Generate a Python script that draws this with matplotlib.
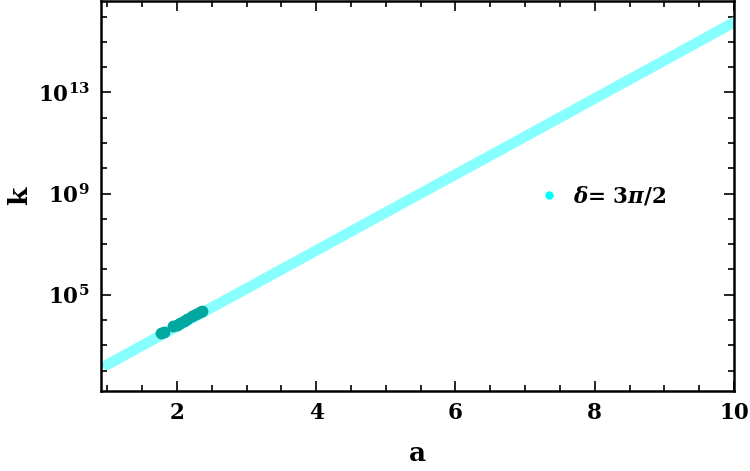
import matplotlib
matplotlib.use("Agg")
import matplotlib.pyplot as plt
import numpy as np
from matplotlib.ticker import FixedLocator, NullFormatter, FuncFormatter

# Data
a_line = [1.0, 2.0, 3.0, 4.0, 5.0, 6.0, 7.0, 8.0, 9.0, 10.0]
k_line = [1.7e2, 5.5e3, 1.75e5, 5.6e6, 1.8e8, 5.7e9, 1.8e11, 5.8e12, 1.85e14, 6.0e15]

a_dark = [1.77, 1.81, 1.95, 2.00, 2.05, 2.10, 2.15, 2.22, 2.28, 2.33, 2.36]
k_dark = [3.0e3, 3.4e3, 5.6e3, 6.6e3, 7.9e3, 9.3e3, 1.1e4, 1.45e4, 1.8e4, 2.1e4, 2.3e4]

legend_label = r"$\delta$= 3$\pi$/2"

plt.rcParams['mathtext.fontset'] = 'custom'
plt.rcParams['mathtext.rm'] = 'DejaVu Serif:bold'
plt.rcParams['mathtext.it'] = 'DejaVu Serif:italic:bold'
plt.rcParams['mathtext.bf'] = 'DejaVu Serif:bold'
plt.rcParams['font.family'] = ['DejaVu Serif']
plt.rcParams['font.weight'] = 'bold'

fig = plt.figure(figsize=(7.5, 4.71), dpi=100)
ax = fig.add_axes([101/750, 80/471, 633/750, 390/471])

ax.plot(a_line, k_line, color='#88FFFF', lw=7.6, solid_capstyle='round', zorder=2)
ax.plot(a_dark, k_dark, 'o', color='#00A8A0', ms=7.5, zorder=3)

ax.set_yscale('log')
ax.set_xlim(0.91, 10.0)
ax.set_ylim(10**1.19, 10**16.62)

ax.xaxis.set_major_locator(FixedLocator([2, 4, 6, 8, 10]))
ax.xaxis.set_minor_locator(FixedLocator(np.arange(1.0, 10.01, 0.5)))
ax.yaxis.set_major_locator(FixedLocator([1e1, 1e5, 1e9, 1e13, 1e17]))
ax.yaxis.set_minor_locator(FixedLocator([10.0**e for e in range(1, 18)]))
ax.yaxis.set_minor_formatter(NullFormatter())

def yfmt(v, pos):
    e = int(round(np.log10(v)))
    return r"$\mathbf{10^{%d}}$" % e
ax.yaxis.set_major_formatter(FuncFormatter(yfmt))

ax.tick_params(which='both', direction='in', top=True, right=True, width=1.2)
ax.tick_params(which='major', length=7, labelsize=15.5, pad=8)
ax.tick_params(which='minor', length=4)
for s in ax.spines.values():
    s.set_linewidth(1.8)

for lab in ax.get_xticklabels():
    lab.set_fontweight('bold')

ax.set_xlabel('a', fontsize=19, fontweight='bold', labelpad=12)
ax.set_ylabel('k', fontsize=19, fontweight='bold', labelpad=4)

h = ax.plot([], [], 'o', color='#00FFFF', ms=5, label=legend_label)[0]
ax.legend(handles=[h], loc='center left', bbox_to_anchor=(0.66, 0.5), frameon=False,
          fontsize=15.5, handletextpad=0.6, handlelength=1.0, markerscale=1)

fig.savefig('out.png', dpi=100)
